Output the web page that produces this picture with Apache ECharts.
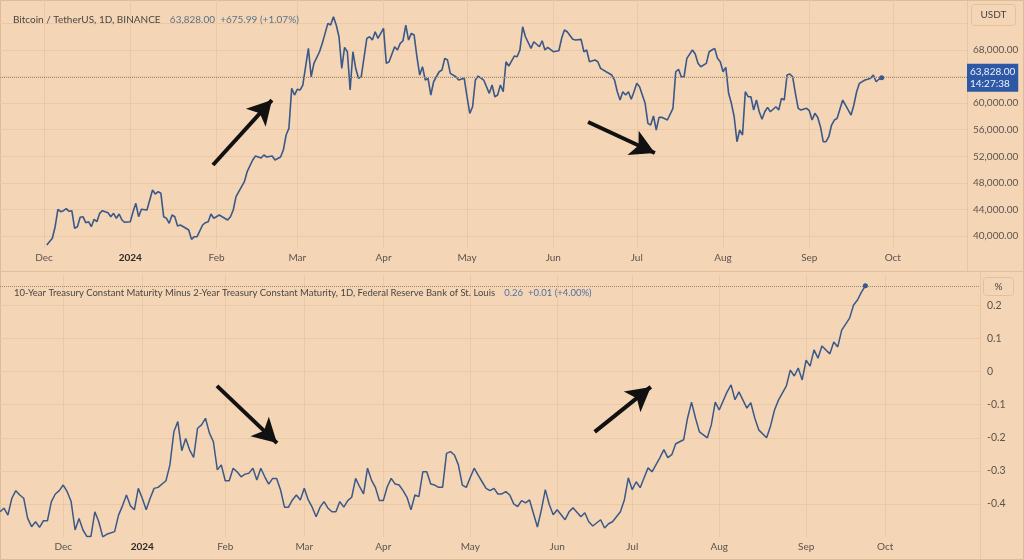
<!DOCTYPE html>
<html><head><meta charset="utf-8">
<script src="https://cdn.jsdelivr.net/npm/echarts@6/dist/echarts.min.js"></script>
<style>html,body{margin:0;padding:0;background:#f4d6b6}#c{width:1024px;height:560px}</style>
</head><body><div id="c"></div><script>
// ---- Top pane: BTC/USDT daily close (x = days since 2023-12-01)
const btcDay = [1,3,4,5,6,7,8,9,10,11,12,13,14,15,16,17,18,19,20,21,23,24,25,26,27,28,29,31,32,33,34,35,37,39,40,41,42,43,44,45,46,47,48,49,51,52,53,54,55,57,58,59,60,61,63,64,66,67,68,69,71,72,73,75,76,78,79,80,82,83,85,86,87,88,89,90,91,92,93,95,96,97,99,100,102,103,104,105,106,107,108,109,110,111,112,113,114,116,117,118,119,120,122,123,124,126,127,128,129,130,131,132,133,134,135,136,137,138,139,140,142,143,144,145,146,148,149,151,152,153,154,155,156,158,160,161,162,163,164,165,166,167,169,170,171,172,173,175,176,178,179,180,181,183,185,186,187,188,190,191,193,194,195,196,198,199,200,202,204,205,206,207,208,209,210,211,212,213,214,216,217,218,219,220,221,222,224,226,227,228,229,230,231,233,234,235,236,238,239,240,241,242,243,244,245,246,247,248,249,250,251,252,253,254,255,256,257,258,259,260,261,263,264,265,266,267,268,269,270,271,272,274,275,276,277,278,279,280,281,282,283,284,285,287,288,290,291,292,293,295,296,297,298,299,300,301];
const btcPrice = [38645,39654,41400,44018,43657,43808,44109,43717,43808,41159,41400,42814,42905,42002,42152,41400,42513,42152,43416,43808,43507,42905,43416,42664,43311,42408,42062,42152,43657,44921,42905,44018,43913,46923,46321,46667,46426,42905,42664,41911,43160,42905,41505,41655,41159,40903,39503,39895,39895,41655,42002,42152,43311,42664,43160,42905,42408,42905,43913,45915,47420,48172,49677,51438,52040,51739,52190,51890,52040,51438,51890,52943,55201,56209,62229,61221,62078,61973,62726,68249,63975,65991,67737,69001,72011,71756,73005,71756,69995,65239,68399,67737,61973,67737,65239,63734,63975,69754,69995,69498,70747,69754,71259,65991,66232,68490,67993,69001,69393,71756,69498,70506,70251,66985,64231,65480,63478,63734,61221,63222,64727,64983,66744,66488,64486,63975,63478,63734,60965,58466,59460,63478,64080,63478,61476,62726,60965,61221,62726,61717,66232,65585,67090,66985,67993,71500,69995,68249,69242,68490,69393,67993,68399,67737,67888,69754,71003,70747,69603,69498,69603,67737,67993,66232,66488,66232,65239,64727,64231,63478,61717,60468,61717,61221,61717,60573,61717,62981,62470,59971,56961,56706,58060,55953,57864,57864,57458,59219,64727,65088,63975,63975,66744,67993,67391,65991,65480,65991,67737,67993,68249,66744,66232,64727,65389,61476,59971,57955,54192,55953,55201,61717,60965,60965,58963,60468,58707,57563,58707,59369,58707,59460,58963,60724,60468,64231,64381,63975,61476,59219,58963,59219,58858,57458,58466,57864,56450,54192,54192,54944,56706,57458,57714,60468,59716,58211,59716,61717,62981,63478,63583,63734,64231,63222,63600,63828];
const btcMonthDays = [0,31,62,91,122,152,183,213,244,275,305];
const monthNames = ['Dec','2024','Feb','Mar','Apr','May','Jun','Jul','Aug','Sep','Oct'];
const btcGridTicks = [40000,44000,48000,52000,56000,60000,64000,68000,72000];
const btcLabelTicks = [40000,44000,48000,52000,56000,60000,68000];
const btcClockText = '14:27:38';

// ---- Bottom pane: 10Y-2Y spread (x = trading-day index, 0 = 2023-12-01)
const spreadIdx = [-16,-15,-14,-13,-12,-11,-10,-9,-8,-7,-6,-5,-4,-3,-2,-1,0,1,2,3,4,5,6,7,8,9,10,11,13,14,15,16,17,18,19,20,21,22,23,24,26,27,28,29,30,31,32,33,34,35,36,37,38,39,40,41,42,43,44,45,46,47,48,49,50,51,52,53,54,55,56,57,58,59,60,61,62,63,64,65,66,67,68,69,70,71,72,73,74,75,76,77,78,79,80,81,82,83,84,85,86,87,88,89,90,91,92,93,94,95,96,97,98,99,100,101,102,103,104,105,106,107,108,109,110,111,112,113,114,115,116,117,118,120,121,122,123,124,125,127,128,129,131,132,133,134,136,137,138,139,141,142,143,144,145,146,147,148,149,151,152,153,154,155,157,158,159,160,161,163,164,165,166,168,169,170,171,173,174,175,176,178,179,180,181,183,184,185,186,187,188,189,190,191,192,194,195,196,197,199,200,201,202,203];
const spreadVal = [-0.424,-0.413,-0.434,-0.383,-0.360,-0.373,-0.383,-0.444,-0.469,-0.454,-0.471,-0.451,-0.451,-0.393,-0.370,-0.360,-0.343,-0.363,-0.393,-0.479,-0.444,-0.479,-0.499,-0.499,-0.424,-0.454,-0.500,-0.492,-0.484,-0.434,-0.406,-0.373,-0.406,-0.418,-0.353,-0.383,-0.418,-0.383,-0.353,-0.350,-0.330,-0.282,-0.182,-0.151,-0.239,-0.202,-0.237,-0.259,-0.171,-0.161,-0.141,-0.186,-0.212,-0.297,-0.282,-0.330,-0.330,-0.292,-0.303,-0.318,-0.310,-0.307,-0.292,-0.328,-0.292,-0.318,-0.340,-0.323,-0.323,-0.358,-0.410,-0.410,-0.388,-0.373,-0.388,-0.353,-0.388,-0.410,-0.439,-0.410,-0.393,-0.413,-0.424,-0.424,-0.393,-0.410,-0.390,-0.380,-0.323,-0.348,-0.370,-0.292,-0.328,-0.350,-0.390,-0.390,-0.348,-0.323,-0.340,-0.343,-0.360,-0.380,-0.418,-0.373,-0.378,-0.303,-0.303,-0.340,-0.343,-0.350,-0.350,-0.247,-0.242,-0.252,-0.282,-0.343,-0.350,-0.320,-0.292,-0.313,-0.333,-0.353,-0.360,-0.353,-0.370,-0.370,-0.363,-0.373,-0.400,-0.408,-0.390,-0.397,-0.388,-0.470,-0.418,-0.357,-0.402,-0.433,-0.418,-0.448,-0.424,-0.412,-0.439,-0.427,-0.454,-0.467,-0.448,-0.473,-0.460,-0.454,-0.424,-0.388,-0.321,-0.357,-0.333,-0.351,-0.321,-0.291,-0.303,-0.260,-0.236,-0.260,-0.251,-0.218,-0.206,-0.140,-0.092,-0.140,-0.182,-0.200,-0.161,-0.092,-0.116,-0.061,-0.040,-0.085,-0.061,-0.110,-0.094,-0.140,-0.176,-0.200,-0.164,-0.116,-0.086,-0.043,0.005,-0.013,0.011,-0.025,0.035,0.017,0.066,0.041,0.078,0.054,0.090,0.075,0.126,0.162,0.202,0.217,0.241,0.260];
const spreadMonthIdx = [0,20,41,61,81,103,125,144,166,188,208];
const spreadTicks = [-0.4,-0.3,-0.2,-0.1,0,0.1,0.2];

// ---- Hand-drawn annotation arrows, in each pane's data units: [fromX, fromY, toX, toY]
const btcArrows = [[60.7,50686,81.9,60468],[195.5,57157,219.5,52492]];
const spreadArrows = [[38.9,-0.043,54.1,-0.216],[134.5,-0.182,148.7,-0.046]];

const FONT = 'Lato, "Open Sans", sans-serif';
const BG = '#f4d6b6', GRIDC = '#ebc9a6', LINE = '#3a5889', TXT = '#5c534c';

function monthFormatter(ticks){
  return function(v){
    const i = ticks.indexOf(Math.round(v));
    if (i < 0) return '';
    const n = monthNames[i];
    return /^\d{4}$/.test(n) ? '{y|' + n + '}' : n;
  };
}
function arrowLines(list){
  return list.map(a => [
    {coord:[a[0],a[1]], symbol:'none', lineStyle:{color:'#111', width:4, type:'solid'}, label:{show:false}},
    {coord:[a[2],a[3]], symbol:'arrow', symbolSize:[20,24]}
  ]);
}
const fmtPrice = v => Math.round(v).toString().replace(/\B(?=(\d{3})+(?!\d))/g, ',') + '.00';

const btcLastDay = btcDay[btcDay.length-1], btcLast = btcPrice[btcPrice.length-1];
const spLastIdx = spreadIdx[spreadIdx.length-1], spLast = spreadVal[spreadVal.length-1];

const chart = echarts.init(document.getElementById('c'), null, {renderer:'canvas'});
chart.setOption({
  animation:false,
  backgroundColor: BG,
  textStyle:{fontFamily:FONT},
  title:[
    {left:8, top:6, text:'{a|Bitcoin / TetherUS, 1D, BINANCE}  {b|63,828.00  +675.99 (+1.07%)}',
     textStyle:{fontWeight:'normal', rich:{a:{fontSize:10,color:'#4a4542',fontWeight:'normal',fontFamily:FONT}, b:{fontSize:10,color:'#5a7288',fontWeight:'normal',fontFamily:FONT}}}},
    {left:9, top:279, text:'{a|10-Year Treasury Constant Maturity Minus 2-Year Treasury Constant Maturity, 1D, Federal Reserve Bank of St. Louis}  {b|0.26  +0.01 (+4.00%)}',
     textStyle:{fontWeight:'normal', rich:{a:{fontSize:9.5,color:'#4a4542',fontWeight:'normal',fontFamily:FONT}, b:{fontSize:9.5,color:'#4f6fa6',fontWeight:'normal',fontFamily:FONT}}}}
  ],
  grid:[
    {left:0, right:57, top:0, height:248},
    {left:0, right:44, top:275, height:262}
  ],
  xAxis:[
    {type:'value', gridIndex:0, min:-15.81, max:331.66,
     axisLine:{show:false}, axisTick:{show:false, customValues:btcMonthDays},
     splitLine:{show:true, lineStyle:{color:GRIDC, width:1}},
     axisLabel:{customValues:btcMonthDays, formatter:monthFormatter(btcMonthDays), color:TXT, fontSize:10, margin:5,
       rich:{y:{fontWeight:'bold', color:'#2e2925', fontSize:10}}}},
    {type:'value', gridIndex:1, min:-16.0, max:232.0,
     axisLine:{show:false}, axisTick:{show:false, customValues:spreadMonthIdx},
     splitLine:{show:true, lineStyle:{color:GRIDC, width:1}},
     axisLabel:{customValues:spreadMonthIdx, formatter:monthFormatter(spreadMonthIdx), color:TXT, fontSize:10, margin:5,
       rich:{y:{fontWeight:'bold', color:'#2e2925', fontSize:10}}}}
  ],
  yAxis:[
    {type:'value', gridIndex:0, position:'right', min:38194, max:75526,
     axisLine:{show:false}, axisTick:{show:false, customValues:btcGridTicks},
     splitLine:{show:true, lineStyle:{color:GRIDC}},
     axisLabel:{customValues:btcLabelTicks, formatter:fmtPrice, color:TXT, fontSize:10, margin:6, align:'left'}},
    {type:'value', gridIndex:1, position:'right', min:-0.5002, max:0.2926,
     axisLine:{show:false}, axisTick:{show:false, customValues:spreadTicks},
     splitLine:{show:true, lineStyle:{color:GRIDC}},
     axisLabel:{customValues:spreadTicks, formatter:v => (Math.round(v*10)/10).toString(), color:TXT, fontSize:10.5, margin:7, align:'left'}}
  ],
  series:[
    {type:'line', xAxisIndex:0, yAxisIndex:0, data:btcDay.map((d,i)=>[d,btcPrice[i]]),
     symbol:'none', lineStyle:{color:LINE, width:1.6}, itemStyle:{color:LINE}, z:3,
     markPoint:{symbol:'circle', symbolSize:5, itemStyle:{color:LINE}, label:{show:false}, data:[{coord:[btcLastDay,btcLast]}]},
     markLine:{silent:true, animation:false, symbol:'none',
       data:[
         {yAxis:btcLast, lineStyle:{type:'dotted', color:'#9a8877', width:1},
          label:{show:true, position:'end', distance:0, formatter:fmtPrice(btcLast)+'\n'+btcClockText,
            backgroundColor:'#2c58a6', color:'#eef2fb', fontSize:10, lineHeight:12, padding:[2,3,2,3], fontFamily:FONT}}
       ].concat(arrowLines(btcArrows))}},
    {type:'line', xAxisIndex:1, yAxisIndex:1, data:spreadIdx.map((d,i)=>[d,spreadVal[i]]),
     symbol:'none', lineStyle:{color:LINE, width:1.5}, itemStyle:{color:LINE}, z:3,
     markPoint:{symbol:'circle', symbolSize:5, itemStyle:{color:LINE}, label:{show:false}, data:[{coord:[spLastIdx,spLast]}]},
     markLine:{silent:true, animation:false, symbol:'none',
       data:[
         {yAxis:spLast, lineStyle:{type:'dotted', color:'#9a8877', width:1}, label:{show:false}}
       ].concat(arrowLines(spreadArrows))}}
  ],
  graphic:[
    {type:'line', shape:{x1:0,y1:271.5,x2:1024,y2:271.5}, style:{stroke:'#dfbf9c', lineWidth:1}, silent:true},
    {type:'line', shape:{x1:967.5,y1:0,x2:967.5,y2:271}, style:{stroke:'#e6c6a4', lineWidth:1}, silent:true},
    {type:'line', shape:{x1:980.5,y1:272,x2:980.5,y2:560}, style:{stroke:'#e6c6a4', lineWidth:1}, silent:true},
    {type:'rect', shape:{x:0.5,y:0.5,width:1023,height:559}, style:{fill:'none', stroke:'#dcbc99', lineWidth:1}, silent:true},
    {type:'group', left:971, top:4, children:[
      {type:'rect', shape:{x:0,y:0,width:44,height:21,r:3}, style:{fill:BG, stroke:'#e2c19f', lineWidth:1}},
      {type:'text', style:{x:22,y:10.5,text:'USDT',align:'center',verticalAlign:'middle',fill:'#4a4440',fontSize:10,fontFamily:FONT}}
    ]},
    {type:'group', left:983, top:277, children:[
      {type:'rect', shape:{x:0,y:0,width:30,height:18,r:3}, style:{fill:BG, stroke:'#e2c19f', lineWidth:1}},
      {type:'text', style:{x:15,y:9,text:'%',align:'center',verticalAlign:'middle',fill:'#4a4440',fontSize:10,fontFamily:FONT}}
    ]}
  ]
});
</script></body></html>
